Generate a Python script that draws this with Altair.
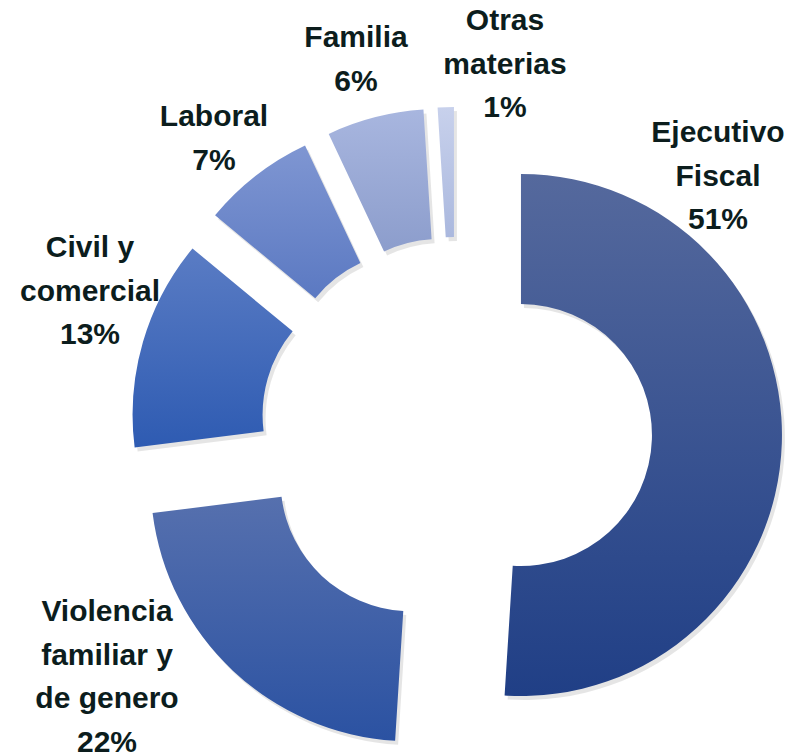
import math
import altair as alt
import pandas as pd

# ---- data ----
categories = ["Ejecutivo Fiscal", "Violencia familiar y de genero", "Civil y comercial",
              "Laboral", "Familia", "Otras materias"]
values = [51, 22, 13, 7, 6, 1]
label_text = ["Ejecutivo\nFiscal", "Violencia\nfamiliar y\nde genero", "Civil y\ncomercial",
              "Laboral", "Familia", "Otras\nmaterias"]

# ---- style / layout ----
top_colors = ["#55699d", "#5670ae", "#5a7cc4", "#7f96d2", "#a8b6df", "#c8d1ec"]
bottom_colors = ["#203f86", "#2b52a2", "#2e5bb2", "#5b79c2", "#8c9dcc", "#aab8de"]
# offsets (px) of each label's first line from the pie centre
label_dx = [262, -349, -366, -242, -100, 49]
label_dy = [-300, 179, -185, -316, -395, -412]
W, H = 791, 747
CX, CY = 448, 425
EXPLODE = 65
R_OUT, R_IN = 261, 131

df = pd.DataFrame({
    "cat": categories,
    "value": values,
    "order": list(range(len(values))),
    "text": [f"{t}\n{v}%" for t, v in zip(label_text, values)],
    "ldx": label_dx,
    "ldy": [-d for d in label_dy],
})

x_scale = alt.Scale(domain=[-CX, W - CX], nice=False, zero=False)
y_scale = alt.Scale(domain=[-(H - CY), CY], nice=False, zero=False)
theta_scale = alt.Scale(domain=[0, 100], range=[0, 2 * math.pi])

base = alt.Chart(df)

layers = []
# soft shadow
layers.append(
    base.mark_arc(outerRadius=R_OUT, innerRadius=R_IN, fill="#000000", opacity=0.10,
                  xOffset=3, yOffset=4).encode(
        theta=alt.Theta("start:Q", scale=theta_scale),
        theta2="end:Q",
        x=alt.X("cx:Q", scale=x_scale, axis=None),
        y=alt.Y("cy:Q", scale=y_scale, axis=None),
    )
)
for i, c in enumerate(categories):
    grad = alt.Gradient(
        gradient="linear",
        stops=[alt.GradientStop(color=top_colors[i], offset=0),
               alt.GradientStop(color=bottom_colors[i], offset=1)],
        x1=0, x2=0, y1=0, y2=1,
    )
    layers.append(
        base.mark_arc(outerRadius=R_OUT, innerRadius=R_IN, fill=grad).encode(
            theta=alt.Theta("start:Q", scale=theta_scale),
            theta2="end:Q",
            x=alt.X("cx:Q", scale=x_scale, axis=None),
            y=alt.Y("cy:Q", scale=y_scale, axis=None),
        ).transform_filter(alt.datum.cat == c)
    )

layers.append(
    base.mark_text(font="Liberation Sans", fontSize=30, fontWeight="bold", color="#0c1d1d",
                   lineBreak="\n", lineHeight=43.5, align="center", baseline="middle").encode(
        x=alt.X("ldx:Q", scale=x_scale, axis=None),
        y=alt.Y("ldy:Q", scale=y_scale, axis=None),
        text="text:N",
    )
)

chart = alt.layer(*layers).transform_window(
    end="sum(value)", sort=[alt.SortField("order")], frame=[None, 0]
).transform_calculate(
    start="datum.end - datum.value",
    mid="PI * (datum.end + datum.end - datum.value) / 100",
).transform_calculate(
    cx=f"{EXPLODE} * sin(datum.mid)",
    cy=f"{EXPLODE} * cos(datum.mid)",
).properties(
    width=W, height=H, padding=0, autosize="none"
).configure_view(stroke=None)

chart.save("out.html", embed_options={"renderer": "svg", "actions": False})
